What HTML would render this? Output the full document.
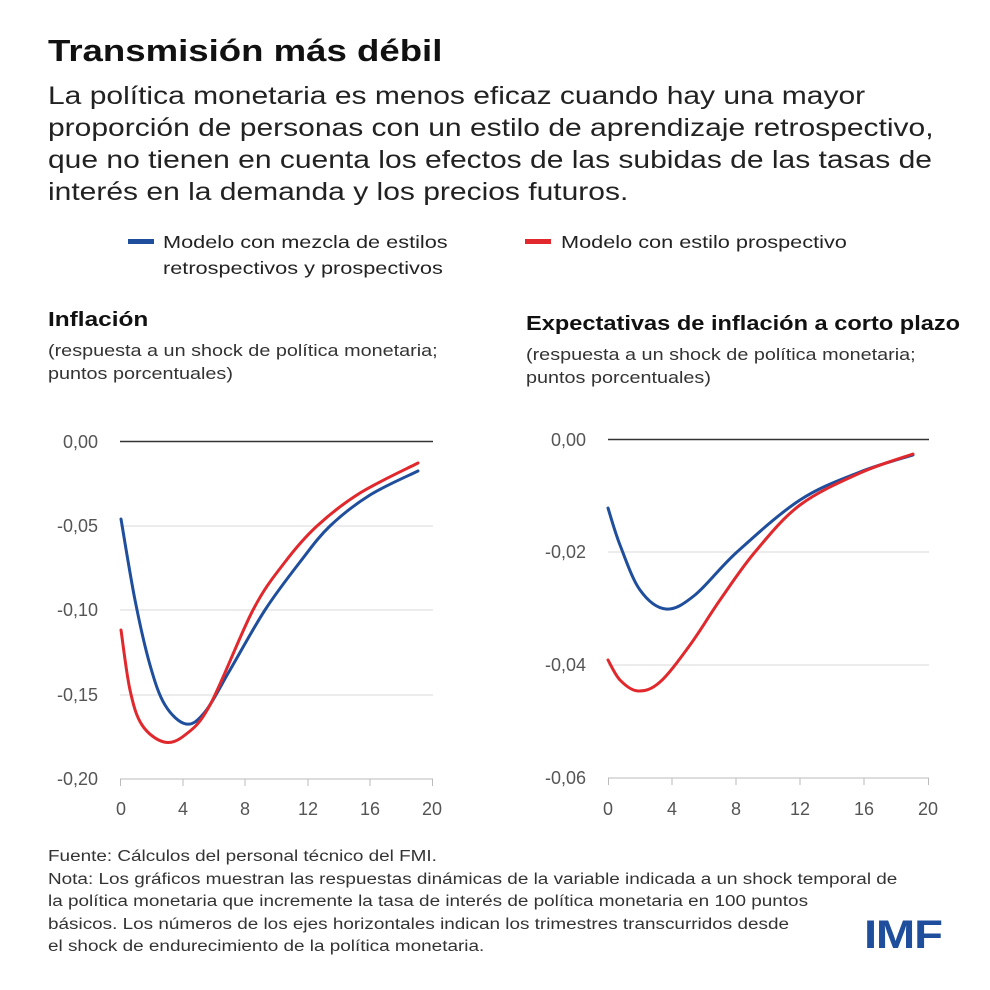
<!DOCTYPE html><html><head><meta charset="utf-8"><style>
body{margin:0;width:990px;height:990px;background:#fff;font-family:"Liberation Sans",sans-serif;position:relative;overflow:hidden;color:#222}
.t{position:absolute;white-space:nowrap;transform-origin:0 0}
</style></head><body>
<div class="t" style="left:48px;top:33px;font-size:31px;font-weight:bold;color:#111;transform:scaleX(1.18)">Transmisión más débil</div>
<div class="t" style="left:48px;top:80px;font-size:25px;line-height:32px;color:#222;transform:scaleX(1.2)">La política monetaria es menos eficaz cuando hay una mayor<br>proporción de personas con un estilo de aprendizaje retrospectivo,<br>que no tienen en cuenta los efectos de las subidas de las tasas de<br>interés en la demanda y los precios futuros.</div>
<div style="position:absolute;left:128px;top:239px;width:26px;height:5px;background:#1f4e9c"></div>
<div class="t" style="left:163px;top:229px;font-size:17.5px;line-height:26px;transform:scaleX(1.24)">Modelo con mezcla de estilos<br>retrospectivos y prospectivos</div>
<div style="position:absolute;left:525px;top:239px;width:26px;height:5px;background:#e0282d"></div>
<div class="t" style="left:561px;top:229px;font-size:17.5px;line-height:26px;transform:scaleX(1.24)">Modelo con estilo prospectivo</div>
<div class="t" style="left:48px;top:309px;font-size:20px;font-weight:bold;color:#111;transform:scaleX(1.22)">Inflación</div>
<div class="t" style="left:48px;top:340px;font-size:16.5px;line-height:23px;color:#333;transform:scaleX(1.2)">(respuesta a un shock de política monetaria;<br>puntos porcentuales)</div>
<div class="t" style="left:526px;top:313px;font-size:20px;font-weight:bold;color:#111;transform:scaleX(1.18)">Expectativas de inflación a corto plazo</div>
<div class="t" style="left:526px;top:344px;font-size:16.5px;line-height:23px;color:#333;transform:scaleX(1.2)">(respuesta a un shock de política monetaria;<br>puntos porcentuales)</div>
<svg width="990" height="990" style="position:absolute;left:0;top:0" font-family="Liberation Sans,sans-serif">
<g stroke="#d8d8d8" stroke-width="1">
<line x1="120" y1="526" x2="433" y2="526"/><line x1="120" y1="610" x2="433" y2="610"/><line x1="120" y1="695" x2="433" y2="695"/>
<line x1="608" y1="552" x2="929" y2="552"/><line x1="608" y1="665" x2="929" y2="665"/>
</g>
<g stroke="#bbb" stroke-width="1">
<line x1="120" y1="779" x2="433" y2="779"/>
<line x1="120.5" y1="779" x2="120.5" y2="786"/><line x1="183" y1="779" x2="183" y2="786"/><line x1="245" y1="779" x2="245" y2="786"/><line x1="308" y1="779" x2="308" y2="786"/><line x1="370" y1="779" x2="370" y2="786"/><line x1="432.5" y1="779" x2="432.5" y2="786"/>
<line x1="608" y1="778" x2="929" y2="778"/>
<line x1="608.5" y1="778" x2="608.5" y2="785"/><line x1="672" y1="778" x2="672" y2="785"/><line x1="736" y1="778" x2="736" y2="785"/><line x1="800" y1="778" x2="800" y2="785"/><line x1="864" y1="778" x2="864" y2="785"/><line x1="928.5" y1="778" x2="928.5" y2="785"/>
</g>
<line x1="120" y1="441.5" x2="433" y2="441.5" stroke="#333" stroke-width="1.5"/>
<line x1="608" y1="439.5" x2="929" y2="439.5" stroke="#333" stroke-width="1.5"/>
<g font-size="18" fill="#555" text-anchor="end">
<text x="98" y="448">0,00</text><text x="98" y="532">-0,05</text><text x="98" y="616">-0,10</text><text x="98" y="701">-0,15</text><text x="98" y="785">-0,20</text>
<text x="586" y="446">0,00</text><text x="586" y="558">-0,02</text><text x="586" y="671">-0,04</text><text x="586" y="784">-0,06</text>
</g>
<g font-size="18" fill="#555" text-anchor="middle">
<text x="121" y="815">0</text><text x="183" y="815">4</text><text x="245" y="815">8</text><text x="308" y="815">12</text><text x="370" y="815">16</text><text x="432" y="815">20</text>
<text x="608" y="815">0</text><text x="672" y="815">4</text><text x="736" y="815">8</text><text x="800" y="815">12</text><text x="864" y="815">16</text><text x="928" y="815">20</text>
</g>
<g fill="none" stroke-width="3" stroke-linecap="round">
<path id="lb" stroke="#1f4e9c"/><path id="lr" stroke="#e0282d"/>
<path id="rb" stroke="#1f4e9c"/><path id="rr" stroke="#e0282d"/>
</g>
</svg>
<div class="t" style="left:48px;top:846px;font-size:15.5px;line-height:22.5px;color:#333;transform:scaleX(1.22)">Fuente: Cálculos del personal técnico del FMI.<br>Nota: Los gráficos muestran las respuestas dinámicas de la variable indicada a un shock temporal de<br>la política monetaria que incremente la tasa de interés de política monetaria en 100 puntos<br>básicos. Los números de los ejes horizontales indican los trimestres transcurridos desde<br>el shock de endurecimiento de la política monetaria.</div>
<div class="t" style="left:864px;top:913px;font-size:40px;font-weight:bold;color:#1f4e9c;letter-spacing:-1px;transform:scaleX(1.18)">IMF</div>
<script>
function cr(p){let d="M"+p[0][0]+","+p[0][1];for(let i=0;i<p.length-1;i++){const a=p[i-1]||p[i],b=p[i],c=p[i+1],e=p[i+2]||c;d+=" C"+(b[0]+(c[0]-a[0])/6)+","+(b[1]+(c[1]-a[1])/6)+" "+(c[0]-(e[0]-b[0])/6)+","+(c[1]-(e[1]-b[1])/6)+" "+c[0]+","+c[1];}return d;}
const S={lb:[[121,519],[135,600],[150,665],[165,705],[186,724],[205,712],[230,670],[265,610],[300,562],[330,526],[370,495],[418,471]],
lr:[[121,630],[130,690],[142,725],[164,742],[185,735],[210,705],[253,610],[285,562],[317,526],[360,493],[418,463]],
rb:[[608,508],[620,545],[640,590],[666,609],[695,595],[737,552],[800,500],[860,472],[913,455]],
rr:[[608,660],[620,680],[638,691],[660,682],[690,645],[720,600],[755,552],[800,505],[860,473],[913,454]]};
for(const k in S)document.getElementById(k).setAttribute("d",cr(S[k]));
</script>
</body></html>
